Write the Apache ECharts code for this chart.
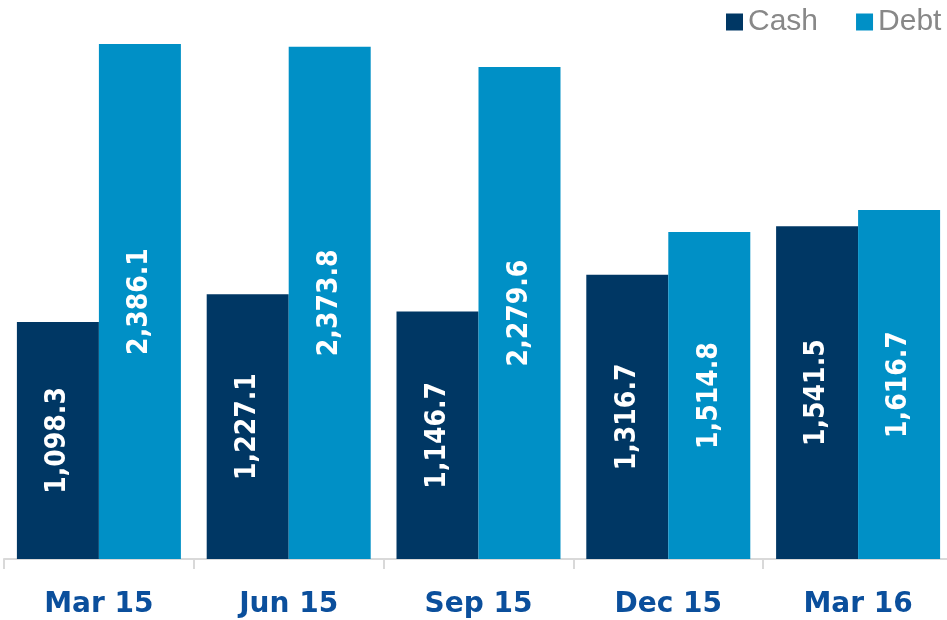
<!DOCTYPE html>
<html>
<head>
<meta charset="utf-8">
<script src="https://cdn.jsdelivr.net/npm/echarts@6/dist/echarts.min.js"></script>
<style>
html, body { margin: 0; padding: 0; background: #fff; }
#main { width: 947px; height: 620px; }
</style>
</head>
<body>
<div id="main"></div>
<script>
var quarters = ['Mar 15', 'Jun 15', 'Sep 15', 'Dec 15', 'Mar 16'];
var cash = [1098.3, 1227.1, 1146.7, 1316.7, 1541.5];
var debt = [2386.1, 2373.8, 2279.6, 1514.8, 1616.7];

var chart = echarts.init(document.getElementById('main'));

// label inside the bar, turned on its side
var barLabel = {
    show: true,
    position: 'inside',
    rotate: 90,
    color: '#fff',
    fontFamily: '"DejaVu Sans Condensed", sans-serif',
    fontWeight: 'bold',
    fontSize: 28,
    formatter: function (p) {
        return p.value.toLocaleString('en-US', { minimumFractionDigits: 1, maximumFractionDigits: 1 });
    }
};

var option = {
    animation: false,
    legend: {
        orient: 'horizontal',
        left: 721,
        top: 2,
        itemWidth: 17,
        itemHeight: 17,
        itemGap: 38,
        icon: 'rect',
        textStyle: { color: '#888', fontSize: 30, fontFamily: 'Liberation Sans' },
        data: ['Cash', 'Debt']
    },
    grid: { left: 4, top: 41, width: 949, bottom: 61, outerBoundsMode: 'none' },
    xAxis: {
        type: 'category',
        data: quarters,
        axisLine: { lineStyle: { color: '#d9d9d9', width: 2 } },
        axisTick: { show: true, length: 10, lineStyle: { color: '#d9d9d9', width: 2 } },
        axisLabel: {
            color: '#0b4f9c',
            fontWeight: 'bold',
            fontSize: 28,
            fontFamily: 'DejaVu Sans',
            margin: 32
        }
    },
    yAxis: {
        type: 'value',
        min: 0,
        max: 2400,
        show: false,
        splitLine: { show: false }
    },
    series: [{
        name: 'Cash',
        type: 'bar',
        data: cash,
        barWidth: 82,
        barGap: '0%',
        itemStyle: { color: '#003764' },
        label: barLabel
    }, {
        name: 'Debt',
        type: 'bar',
        data: debt,
        barWidth: 82,
        itemStyle: { color: '#0090c6' },
        label: barLabel
    }]
};

chart.setOption(option);
</script>
</body>
</html>
